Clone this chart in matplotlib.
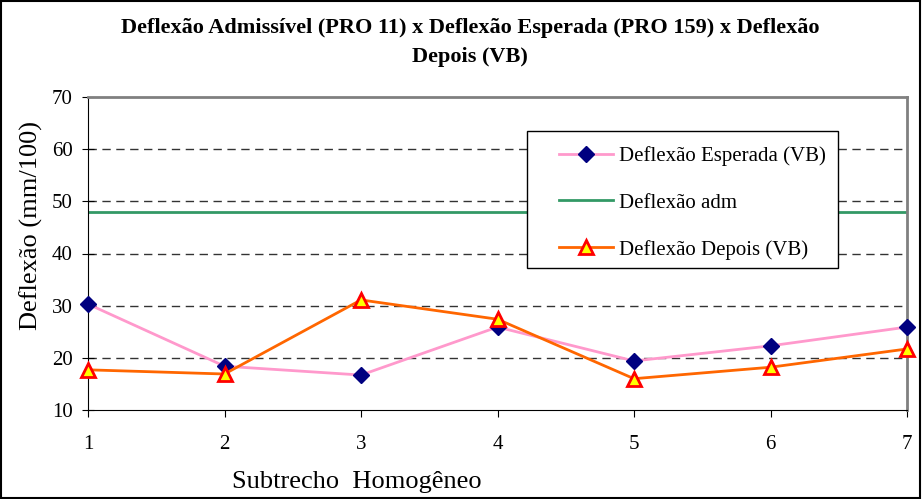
import numpy as np
import matplotlib.pyplot as plt

plt.rcParams['font.family'] = ['Liberation Serif', 'DejaVu Serif']

# Data
subtrechos = [1, 2, 3, 4, 5, 6, 7]
esperada = [30.3, 18.4, 16.7, 25.9, 19.4, 22.3, 25.9]
depois = [17.7, 16.9, 31.1, 27.4, 16.0, 18.2, 21.7]
adm = [48, 48, 48, 48, 48, 48, 48]

W, H = 922, 499
fig = plt.figure(figsize=(W / 100, H / 100), dpi=100)
ax = fig.add_axes([88 / W, 1 - 410 / H, 819 / W, 313 / H])

ax.plot(subtrechos, esperada, color='#ff99cc', lw=2, marker='D', ms=8,
        mfc='#000080', mec='#000080', label='Deflexão Esperada (VB)', zorder=3,
        clip_on=False)
ax.plot(subtrechos, adm, color='#339966', lw=2, label='Deflexão adm', zorder=2)
ax.plot(subtrechos, depois, color='#ff6600', lw=2, marker='^', ms=10,
        mfc='#ffff00', mec='#ff0000', mew=2, label='Deflexão Depois (VB)', zorder=4,
        clip_on=False)

ax.set_xlim(1, 7)
ax.set_ylim(10, 70)
ax.set_yticks(np.arange(10, 71, 10))
ax.set_xticks(subtrechos)
for y in range(20, 70, 10):
    ax.axhline(y, color='#333333', lw=1, ls=(0, (6, 4)), zorder=1)

ax.spines['left'].set_color('black')
ax.spines['bottom'].set_color('black')
ax.spines['top'].set_color('#808080')
ax.spines['right'].set_color('#808080')
ax.spines['top'].set_linewidth(2)
ax.spines['right'].set_linewidth(2)
ax.tick_params(axis='x', labelsize=15, direction='out', length=5, pad=13)
ax.tick_params(axis='y', labelsize=15, direction='inout', length=8, pad=7)

ax.set_ylabel('Deflexão (mm/100)', fontsize=19)
ax.yaxis.set_label_coords(-0.055, 0.588)
ax.set_xlabel('Subtrecho  Homogêneo', fontsize=19)
ax.xaxis.set_label_coords(0.328, -0.195)

fig.text(0.51, 1 - 18 / H,
         'Deflexão Admissível (PRO 11) x Deflexão Esperada (PRO 159) x Deflexão\nDepois (VB)',
         fontsize=16, fontweight='bold', ha='center', va='top', linespacing=1.6)

# legend box drawn by hand, entries placed inside it
fig.patches.append(plt.Rectangle((527 / W, 1 - 268 / H), 311 / W, 137 / H,
                                 transform=fig.transFigure, fc='white', ec='black',
                                 lw=1, zorder=5))
leg = fig.legend(*ax.get_legend_handles_labels(), loc='upper left',
                 bbox_to_anchor=(559 / W, 1 - 146 / H), fontsize=15, frameon=False,
                 handlelength=2.6, handletextpad=0.3, labelspacing=1.3,
                 borderpad=0, borderaxespad=0)
leg.set_zorder(6)

# outer chart border
fig.patches.append(plt.Rectangle((0.001, 0.002), 0.997, 0.996, transform=fig.transFigure,
                                 fill=False, ec='black', lw=1.5))

fig.savefig('out.png', dpi=100)
